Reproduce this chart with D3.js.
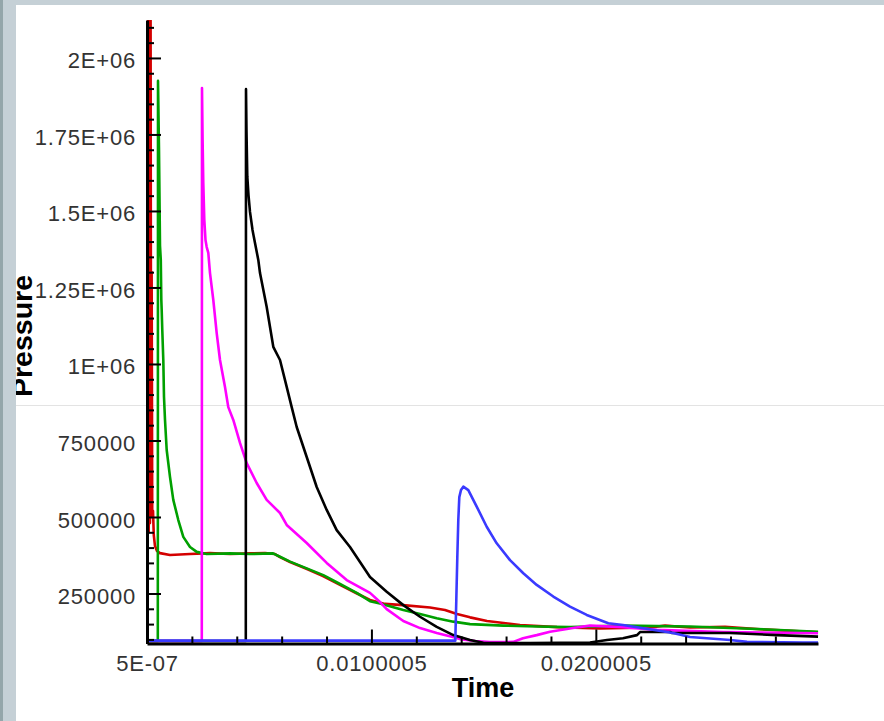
<!DOCTYPE html>
<html>
<head>
<meta charset="utf-8">
<script src="https://cdn.jsdelivr.net/npm/d3@7/dist/d3.min.js"></script>
<style>
  html, body { margin: 0; padding: 0; background: #ffffff; }
  svg { display: block; }
</style>
</head>
<body>
<svg id="chart" width="884" height="721"></svg>
<script>
// Pressure histories at five gauges: [time (s), pressure (Pa)]
const redSeries = [
  [5e-7, 95000], [5.1e-5, 2600000], [7.8e-5, 450000], [1.04e-4, 2500000], [1.31e-4, 480000],
  [1.58e-4, 2300000], [1.85e-4, 520000], [2.07e-4, 1300000], [2.34e-4, 500000], [2.68e-4, 520000],
  [3.03e-4, 441000], [3.57e-4, 405000], [4.46e-4, 389000], [5.8e-4, 382000], [1.025e-3, 376000],
  [1.917e-3, 379000], [2.808e-3, 382000], [3.699e-3, 379000], [4.59e-3, 381000], [5.259e-3, 382000],
  [5.704e-3, 379000], [5.927e-3, 369000], [6.373e-3, 353000], [7.13e-3, 330000], [7.843e-3, 307000],
  [8.6e-3, 278000], [9.358e-3, 250000], [9.937e-3, 229000], [1.0606e-2, 216000], [1.1408e-2, 212000],
  [1.2611e-2, 204000], [1.3279e-2, 196000], [1.3814e-2, 183000], [1.4394e-2, 172000], [1.5151e-2, 160000],
  [1.6622e-2, 147000], [1.8271e-2, 140000], [2.0187e-2, 136000], [2.2415e-2, 139000], [2.3084e-2, 145000],
  [2.4198e-2, 139000], [2.5758e-2, 141000], [2.7317e-2, 133000], [2.9902e-2, 123000]
];

const greenSeries = [
  [5e-7, 95000], [4.82e-4, 95000], [4.91e-4, 1925000], [5.35e-4, 1700000], [5.8e-4, 1386000],
  [6.15e-4, 1340000], [6.38e-4, 1210000], [6.55e-4, 1176000], [6.82e-4, 1110000], [7.27e-4, 1013000],
  [7.58e-4, 892000], [8.03e-4, 817000], [8.78e-4, 719000], [1.025e-3, 631000], [1.172e-3, 556000],
  [1.395e-3, 490000], [1.618e-3, 435000], [1.917e-3, 402000], [2.215e-3, 386000], [2.661e-3, 379000],
  [3.699e-3, 381000], [4.59e-3, 379000], [5.615e-3, 381000], [5.927e-3, 370000], [6.373e-3, 354000],
  [7.117e-3, 332000], [7.856e-3, 310000], [8.6e-3, 281000], [9.345e-3, 252000], [9.937e-3, 225000],
  [1.0383e-2, 217000], [1.1421e-2, 196000], [1.2166e-2, 183000], [1.291e-2, 169000], [1.3649e-2, 158000],
  [1.4394e-2, 150000], [1.5877e-2, 145000], [1.7366e-2, 142000], [1.8849e-2, 140000], [2.1211e-2, 145000],
  [2.4198e-2, 142000], [2.7181e-2, 134000], [2.9902e-2, 125000]
];

const magentaSeries = [
  [5e-7, 95000], [2.442e-3, 95000], [2.451e-3, 1902000], [2.478e-3, 1732000], [2.509e-3, 1591000],
  [2.554e-3, 1471000], [2.607e-3, 1405000], [2.661e-3, 1382000], [2.732e-3, 1363000], [2.808e-3, 1297000],
  [2.955e-3, 1209000], [3.106e-3, 1101000], [3.253e-3, 1013000], [3.476e-3, 925000], [3.623e-3, 859000],
  [3.846e-3, 817000], [4.144e-3, 742000], [4.443e-3, 676000], [4.888e-3, 611000], [5.334e-3, 556000],
  [5.927e-3, 513000], [6.225e-3, 474000], [7.117e-3, 415000], [8.008e-3, 350000], [8.899e-3, 294000],
  [9.937e-3, 252000], [1.0383e-2, 222000], [1.0681e-2, 199000], [1.1421e-2, 160000], [1.2166e-2, 137000],
  [1.291e-2, 121000], [1.3578e-2, 109000], [1.3948e-2, 101000], [1.4616e-2, 95000], [1.5285e-2, 91000],
  [1.5953e-2, 91000], [1.6323e-2, 92000], [1.6755e-2, 104000], [1.7366e-2, 114000], [1.7958e-2, 125000],
  [1.8983e-2, 137000], [1.974e-2, 145000], [2.1211e-2, 140000], [2.2726e-2, 131000], [2.5668e-2, 124000],
  [2.9902e-2, 120000]
];

const blackSeries = [
  [5e-7, 95000], [4.403e-3, 95000], [4.412e-3, 1898000], [4.434e-3, 1760000], [4.47e-3, 1612000],
  [4.523e-3, 1552000], [4.59e-3, 1497000], [4.702e-3, 1438000], [4.813e-3, 1395000], [4.96e-3, 1340000],
  [5.036e-3, 1297000], [5.334e-3, 1186000], [5.628e-3, 1056000], [5.927e-3, 1013000], [6.225e-3, 925000],
  [6.448e-3, 859000], [6.671e-3, 794000], [7.117e-3, 696000], [7.562e-3, 598000], [8.008e-3, 523000],
  [8.453e-3, 457000], [9.046e-3, 402000], [9.492e-3, 353000], [9.937e-3, 304000], [1.0681e-2, 256000],
  [1.1421e-2, 212000], [1.2166e-2, 174000], [1.291e-2, 141000], [1.3649e-2, 114000], [1.4394e-2, 98000],
  [1.4987e-2, 89000], [1.7067e-2, 88000], [1.974e-2, 90000], [2.0498e-2, 98000], [2.1211e-2, 104000],
  [2.1835e-2, 114000], [2.1969e-2, 124000], [2.3306e-2, 124000], [2.3395e-2, 121000], [2.598e-2, 121000],
  [2.8074e-2, 114000], [2.9902e-2, 109000]
];

const blueSeries = [
  [5e-7, 96000], [1.3738e-2, 96000], [1.3783e-2, 229000], [1.3827e-2, 366000], [1.3872e-2, 490000],
  [1.3917e-2, 565000], [1.3992e-2, 588000], [1.4095e-2, 599000], [1.4318e-2, 588000], [1.4692e-2, 534000],
  [1.5138e-2, 468000], [1.5583e-2, 414000], [1.6176e-2, 359000], [1.6769e-2, 316000], [1.7366e-2, 278000],
  [1.8105e-2, 240000], [1.8849e-2, 207000], [1.9594e-2, 180000], [2.0556e-2, 153000], [2.1211e-2, 147000],
  [2.3439e-2, 121000], [2.4197e-2, 108000], [2.598e-2, 98000], [2.6737e-2, 92000], [2.923e-2, 90000],
  [2.9902e-2, 89600]
];

// Axis ticks and labels
const yMajorTicks = [250000, 500000, 750000, 1000000, 1250000, 1500000, 1750000, 2000000];
const yTickLabels = ["250000", "500000", "750000", "1E+06", "1.25E+06", "1.5E+06", "1.75E+06", "2E+06"];
const yMinorTicks = d3.range(100000, 2100001, 50000).filter(v => v % 250000 !== 0);

const xMajorTicks = [5e-7, 0.0100005, 0.0200005];
const xTickLabels = ["5E-07", "0.0100005", "0.0200005"];
const xMinorTicks = d3.range(1, 15).map(k => 5e-7 + k * 0.002).filter((v, i) => (i + 1) % 5 !== 0);

const xTitle = "Time";
const yTitle = "Pressure";

const series = [
  { data: redSeries, color: "#d40000" },
  { data: greenSeries, color: "#00a000" },
  { data: magentaSeries, color: "#ff00ff" },
  { data: blackSeries, color: "#000000" },
  { data: blueSeries, color: "#3a3aff" }
];

const svg = d3.select("#chart");
const W = 884, H = 721;
const plot = { left: 147, right: 818, top: 20, bottom: 643.5 };

const x = d3.scaleLinear().domain([5e-7, 0.0299]).range([plot.left, plot.right]);
const y = d3.scaleLinear().domain([86600, 2124000]).range([plot.bottom, plot.top]);

// page background
svg.append("rect").attr("width", W).attr("height", H).attr("fill", "#ffffff");

// faint horizontal rule across the window
svg.append("line")
  .attr("x1", 16).attr("x2", W).attr("y1", 405.5).attr("y2", 405.5)
  .attr("stroke", "#e3e3e3").attr("stroke-width", 1);

// axis titles
svg.append("text")
  .attr("transform", "translate(32,336) rotate(-90)")
  .attr("text-anchor", "middle")
  .attr("font-family", "'Liberation Sans', Arial, sans-serif")
  .attr("font-weight", "bold")
  .attr("font-size", 28.5)
  .attr("fill", "#000")
  .text(yTitle);

svg.append("text")
  .attr("x", 483).attr("y", 697)
  .attr("text-anchor", "middle")
  .attr("font-family", "'Liberation Sans', Arial, sans-serif")
  .attr("font-weight", "bold")
  .attr("font-size", 27)
  .attr("fill", "#000")
  .text(xTitle);

// window frame strips
svg.append("rect").attr("x", 0).attr("y", 0).attr("width", 16).attr("height", H).attr("fill", "#c5d0d6");
svg.append("rect").attr("x", 0).attr("y", 0).attr("width", 3).attr("height", H).attr("fill", "#94a6aa");
svg.append("rect").attr("x", 16).attr("y", 0).attr("width", W - 16).attr("height", 5).attr("fill", "#c5d0d6");

// data lines, clipped to the plot frame
svg.append("defs").append("clipPath").attr("id", "plotClip")
  .append("rect")
  .attr("x", plot.left).attr("y", plot.top)
  .attr("width", plot.right - plot.left + 2).attr("height", plot.bottom - plot.top + 2);

const line = d3.line().x(d => x(d[0])).y(d => y(d[1]));

const lines = svg.append("g").attr("clip-path", "url(#plotClip)");
series.forEach(s => {
  lines.append("path")
    .datum(s.data)
    .attr("d", line)
    .attr("fill", "none")
    .attr("stroke", s.color)
    .attr("stroke-width", 2.6)
    .attr("stroke-linejoin", "round");
});

// axes
const labelFont = "'Liberation Sans', Arial, sans-serif";

function styleAxis(g, width) {
  g.select(".domain").attr("stroke", "#000").attr("stroke-width", width);
  g.selectAll(".tick line").attr("stroke", "#000").attr("stroke-width", 2);
  g.selectAll(".tick text")
    .attr("font-family", labelFont)
    .attr("font-size", 22)
    .attr("letter-spacing", "0.8px")
    .attr("fill", "#333");
}

// minor ticks
svg.append("g")
  .attr("transform", `translate(${plot.left},0)`)
  .call(d3.axisLeft(y).tickValues(yMinorTicks).tickFormat("").tickSizeInner(-7).tickSizeOuter(0))
  .call(g => { g.select(".domain").remove(); g.selectAll(".tick line").attr("stroke", "#000").attr("stroke-width", 2); });

svg.append("g")
  .attr("transform", `translate(0,${plot.bottom})`)
  .call(d3.axisBottom(x).tickValues(xMinorTicks).tickFormat("").tickSizeInner(-7).tickSizeOuter(0))
  .call(g => { g.select(".domain").remove(); g.selectAll(".tick line").attr("stroke", "#000").attr("stroke-width", 2); });

// major ticks with labels
const yAxisG = svg.append("g")
  .attr("transform", `translate(${plot.left},0)`)
  .call(d3.axisLeft(y).tickValues(yMajorTicks).tickFormat((d, i) => yTickLabels[i])
    .tickSizeInner(-14).tickSizeOuter(0).tickPadding(11));
styleAxis(yAxisG, 3);
yAxisG.selectAll(".tick text").attr("dy", "0.455em");

const xAxisG = svg.append("g")
  .attr("transform", `translate(0,${plot.bottom})`)
  .call(d3.axisBottom(x).tickValues(xMajorTicks).tickFormat((d, i) => xTickLabels[i])
    .tickSizeInner(-14).tickSizeOuter(0).tickPadding(11.4));
styleAxis(xAxisG, 3);
</script>
</body>
</html>
